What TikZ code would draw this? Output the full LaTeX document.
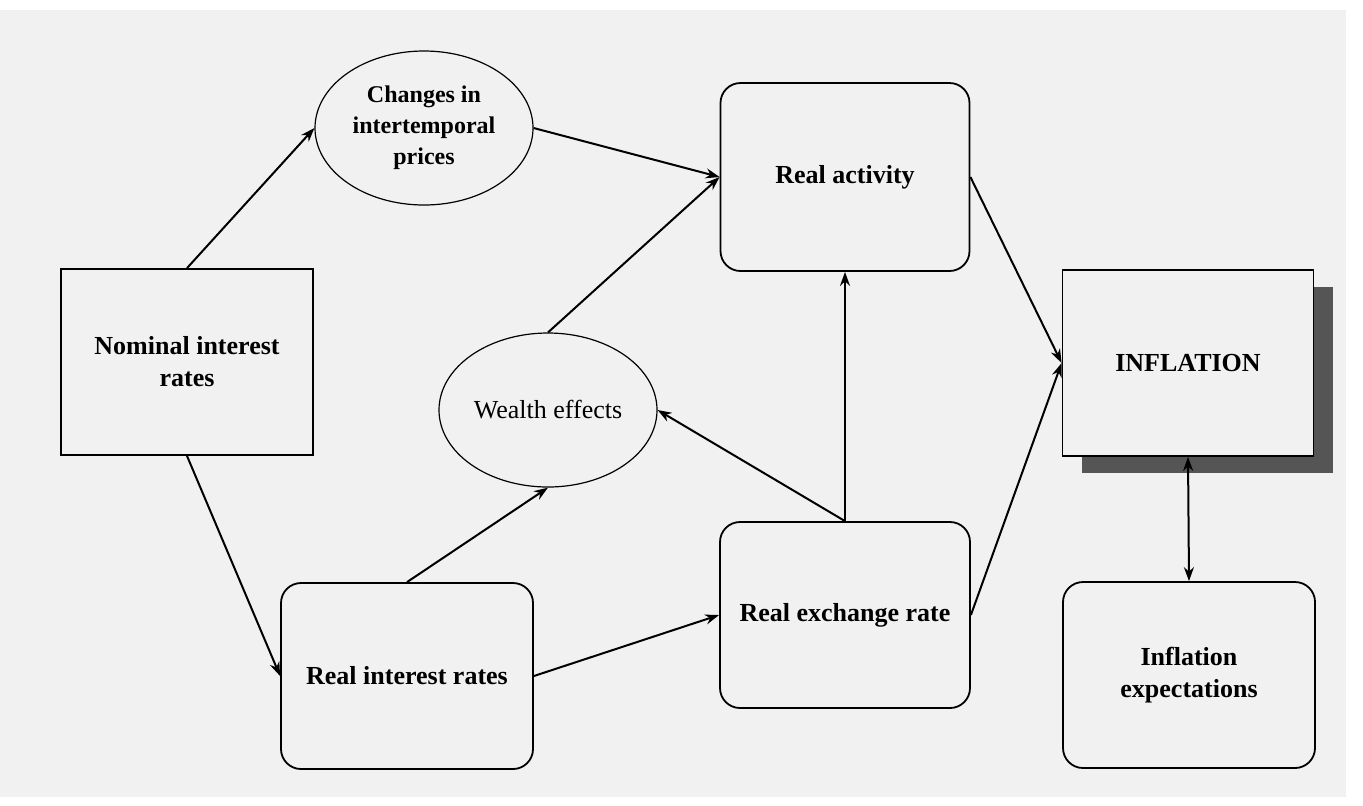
\documentclass[tikz,border=0pt]{standalone}
\usepackage{fontspec}
\setmainfont{Liberation Serif}
\usetikzlibrary{shapes.geometric,arrows.meta,shadows}
\definecolor{paper}{RGB}{241,241,241}
\definecolor{shadowgray}{RGB}{85,85,85}
\begin{document}
\begin{tikzpicture}[x=0.5pt,y=-0.5pt,
  lbl/.style={font=\fontsize{13}{16}\selectfont\bfseries, align=center, text=black},
  sqbox/.style={lbl, draw=black, line width=0.9pt, inner sep=0pt, minimum width=126pt, minimum height=93pt},
  rbox/.style={sqbox, rounded corners=10pt},
  oval/.style={lbl, ellipse, draw=black, line width=0.6pt, inner sep=0pt, minimum width=109pt, minimum height=77pt},
  tip/.tip={Stealth[length=7pt,width=5pt]},
  link/.style={draw=black, line width=1pt, -tip},
  link2/.style={draw=black, line width=1pt, tip-tip},
]
% page
\fill[white] (0,0) rectangle (1363,805);
\fill[paper] (0,10) rectangle (1346,797);
\useasboundingbox (0,0) rectangle (1363,805);

% nodes
\node[sqbox] (nom) at (187,362) {Nominal interest\\rates};
\node[oval, font=\fontsize{12}{15.5}\selectfont\bfseries] (chg) at (424,128) {Changes in\\intertemporal\\prices};
\node[oval, font=\fontsize{13}{16}\selectfont] (wea) at (548,410) {Wealth effects};
\node[rbox, minimum width=124.5pt, minimum height=94pt] (ra) at (845,177) {Real activity};
\node[sqbox, fill=paper, minimum width=125.5pt, drop shadow={shadow xshift=9.5pt, shadow yshift=-8.5pt, fill=shadowgray, opacity=1}] (infl) at (1188,363) {INFLATION};
\node[rbox] (rir) at (407,676) {Real interest rates};
\node[rbox, minimum width=125pt] (rer) at (845,615) {Real exchange rate};
\node[rbox] (ie) at (1189,675) {Inflation\\expectations};

% connectors
\draw[link] (nom.north) -- (chg.west);
\draw[link] (nom.south) -- (rir.west);
\draw[link] (chg.east) -- (ra.west);
\draw[link] (wea.north) -- (ra.west);
\draw[link] (rir.north) -- (wea.south);
\draw[link] (rir.east) -- (rer.west);
\draw[link] (rer.north) -- (ra.south);
\draw[link] (rer.north) -- (wea.east);
\draw[link] (ra.east) -- (infl.west);
\draw[link] (rer.east) -- (infl.west);
\draw[link2] (infl.south) -- (ie.north);
\end{tikzpicture}
\end{document}
